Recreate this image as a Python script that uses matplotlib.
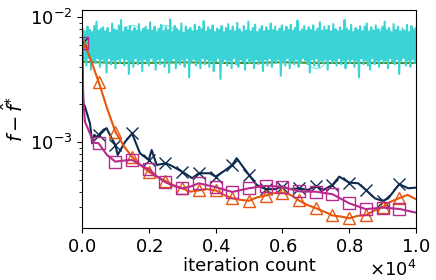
import numpy as np
import matplotlib
matplotlib.use("Agg")
import matplotlib.pyplot as plt

# noisy series, values in units of 1e-4
noisy_raw = """
62 80 46 77 41 84 47 79 38 76 45 85 43 92 47 78 40 81 46 83
44 77 36 82 47 75 42 89 45 80 39 78 46 86 43 95 47 76 41 83
46 79 35 85 44 77 40 82 47 78 42 88 45 76 37 81 46 84 43 79
41 91 47 78 44 84 38 76 46 80 42 87 47 77 40 83 45 79 36 96
44 76 47 85 39 81 45 78 42 89 46 75 40 84 47 79 33 82 44 77
46 87 41 78 45 84 39 80 47 93 42 77 46 83 40 79 45 86 37 76
44 81 47 79 32 85 43 76 46 82 41 88 45 78 39 84 47 77 42 90
40 80 46 76 44 85 38 78 47 92 43 77 45 82 39 87 46 76 42 80
45 85 37 77 46 83 41 78 47 89 40 79 45 84 43 77 46 81 34 86
44 77 41 84 47 79 39 87 45 78 42 82 46 94 40 77 43 80 47 85
45 78 42 83 36 79 46 86 41 77 47 81 40 91 45 78 43 84 46 79
38 85 46 77 43 88 45 80 41 77 47 83 42 78 45 95 39 81 46 78
43 87 46 76 40 82 45 79 33 85 47 77 42 84 45 89 41 77 38 83
47 78 42 86 45 80 40 77 46 84 43 92 45 78 39 82 47 76 44 88
42 79 46 84 35 77 45 81 47 78 41 87 45 76 40 85 46 80 43 82
"""
cyan_vals = [int(v) * 1e-4 for v in noisy_raw.split()]
cyan_iters = np.linspace(0, 10000, len(cyan_vals))

# faint circle-marker series (mostly hidden behind the band)
circ_iters = [0, 500, 1000, 1500, 2000, 2500, 3000, 3500, 4000, 4500, 5000,
              5500, 6000, 6500, 7000, 7500, 8000, 8500, 9000, 9500]
circ_vals = [6.2e-3, 6.0e-3, 6.1e-3, 7.3e-3, 6.0e-3, 7.4e-3, 5.9e-3, 6.1e-3, 6.0e-3, 5.8e-3,
             6.0e-3, 6.1e-3, 5.9e-3, 6.0e-3, 4.6e-3, 6.1e-3, 5.8e-3, 6.0e-3, 7.0e-3, 6.0e-3]

green_iters = [0, 1000, 2000, 3000, 4000, 5000, 6000, 7000, 8000, 9000, 10000]
green_vals = [4.4e-3, 4.3e-3, 4.3e-3, 4.35e-3, 4.3e-3, 4.3e-3, 4.35e-3, 4.3e-3, 4.3e-3, 4.3e-3, 4.3e-3]

navy_iters = [0, 39, 90, 240, 308, 368, 440, 500, 539, 638, 740, 787, 868, 1000,
              1069, 1287, 1500, 1737, 2000, 2087, 2237, 2500, 2635, 3000, 3150, 3300,
              3500, 3832, 4000, 4231, 4500, 4632, 5000, 5231, 5500, 5778, 6000, 6228,
              6500, 6775, 7000, 7225, 7500, 7704, 8000, 8272, 8500, 8772, 9000, 9171,
              9500, 9770, 10000]
navy_vals = [6.19e-3, 2.04e-3, 1.92e-3, 1.41e-3, 9.76e-4, 1.14e-3, 1.10e-3, 1.13e-3, 1.17e-3,
             1.25e-3, 1.29e-3, 1.21e-3, 1.10e-3, 9.46e-4,
             7.87e-4, 1.0e-3, 1.17e-3, 8.12e-4, 7.18e-4, 8.63e-4, 6.55e-4, 6.75e-4, 6.55e-4,
             5.79e-4, 5.45e-4, 5.13e-4,
             5.62e-4, 5.62e-4, 5.28e-4, 5.79e-4, 6.55e-4, 7.41e-4, 5.45e-4, 4.53e-4, 4.19e-4,
             4.19e-4, 4.39e-4, 4.19e-4,
             4.26e-4, 4.13e-4, 4.45e-4, 4.13e-4, 4.53e-4, 5.28e-4, 4.73e-4, 4.67e-4, 4.13e-4,
             3.54e-4, 3.37e-4, 3.54e-4,
             4.59e-4, 4.26e-4, 4.31e-4]

orange_iters = [0, 150, 300, 500, 750, 1000, 1250, 1500, 1750, 2000, 2250, 2500, 2750,
                3000, 3250, 3500, 3750, 4000, 4250, 4500, 4750, 5000, 5250, 5500, 5750,
                6000, 6250, 6500, 6750, 7000, 7250, 7500, 7750, 8000, 8250, 8500, 8750,
                9000, 9250, 9500, 9750, 10000]
orange_vals = [6.19e-3, 5.45e-3, 4.28e-3, 3.03e-3, 1.87e-3, 1.21e-3, 9.3e-4, 7.6e-4, 6.55e-4,
               5.78e-4, 5.25e-4, 4.88e-4, 4.49e-4, 4.26e-4, 4.0e-4, 4.1e-4, 4.19e-4, 4.1e-4,
               3.77e-4, 3.54e-4, 3.44e-4, 3.38e-4, 3.61e-4, 3.72e-4, 3.89e-4, 3.93e-4,
               3.77e-4, 3.40e-4, 3.13e-4, 2.95e-4, 2.77e-4, 2.58e-4, 2.53e-4, 2.45e-4,
               2.56e-4, 2.6e-4, 2.82e-4, 3.0e-4, 3.33e-4, 3.55e-4, 3.77e-4, 3.48e-4]

magenta_iters = [0, 20, 39, 90, 240, 340, 500, 750, 1000, 1250, 1500, 1750, 2000, 2250,
                 2500, 2750, 3000, 3250, 3500, 4000, 4500, 5000, 5500, 6000, 6500, 7000,
                 7500, 8000, 8500, 9000, 9500, 10000]
magenta_vals = [6.19e-3, 3.77e-3, 2.17e-3, 1.45e-3, 1.17e-3, 9.9e-4, 9.76e-4, 7.87e-4, 6.96e-4,
                7.1e-4, 7.18e-4, 6.55e-4, 6.05e-4, 5.28e-4, 4.76e-4, 4.45e-4, 4.25e-4, 4.4e-4,
                4.67e-4, 4.35e-4, 3.98e-4, 4.26e-4, 4.45e-4, 4.39e-4, 4.02e-4, 4.0e-4,
                3.82e-4, 3.23e-4, 2.9e-4, 2.98e-4, 2.91e-4, 2.72e-4]


def marks(iters):
    return [it % 500 == 0 and it < 10000 for it in iters]


fig = plt.figure(figsize=(4.36, 2.8), dpi=100)
ax = fig.add_axes([0.188, 0.186, 0.766, 0.778])

ax.plot(green_iters, green_vals, color="#4e8a22", lw=1.5)
ax.plot(circ_iters, circ_vals, color="#3bd4d6", alpha=0.6, lw=0, marker="o", ms=13,
        mfc="none", mew=1)
ax.plot(cyan_iters, cyan_vals, color="#3bd4d6", lw=1.5)
ax.plot(navy_iters, navy_vals, color="#0d2b4c", lw=1.5, marker="x", ms=9, mew=1,
        markevery=marks(navy_iters))
ax.plot(orange_iters, orange_vals, color="#e8560d", lw=1.5, marker="^", ms=9,
        mfc="none", mew=1, markevery=marks(orange_iters))
ax.plot(magenta_iters, magenta_vals, color="#b82a8c", lw=1.5, marker="s", ms=9,
        mfc="none", mew=1, markevery=marks(magenta_iters))

ax.set_yscale("log")
ax.set_xlim(0, 10000)
ax.set_ylim(2.05e-4, 1.14e-2)
ax.ticklabel_format(axis="x", style="sci", scilimits=(0, 0), useMathText=True)
ax.tick_params(labelsize=13)
ax.xaxis.get_offset_text().set_fontsize(13)
ax.set_xlabel("iteration count", fontsize=13, labelpad=1)
ax.set_ylabel(r"$f - \hat{f}^{*}$", fontsize=14, labelpad=2)

fig.savefig("out.png", dpi=100)
